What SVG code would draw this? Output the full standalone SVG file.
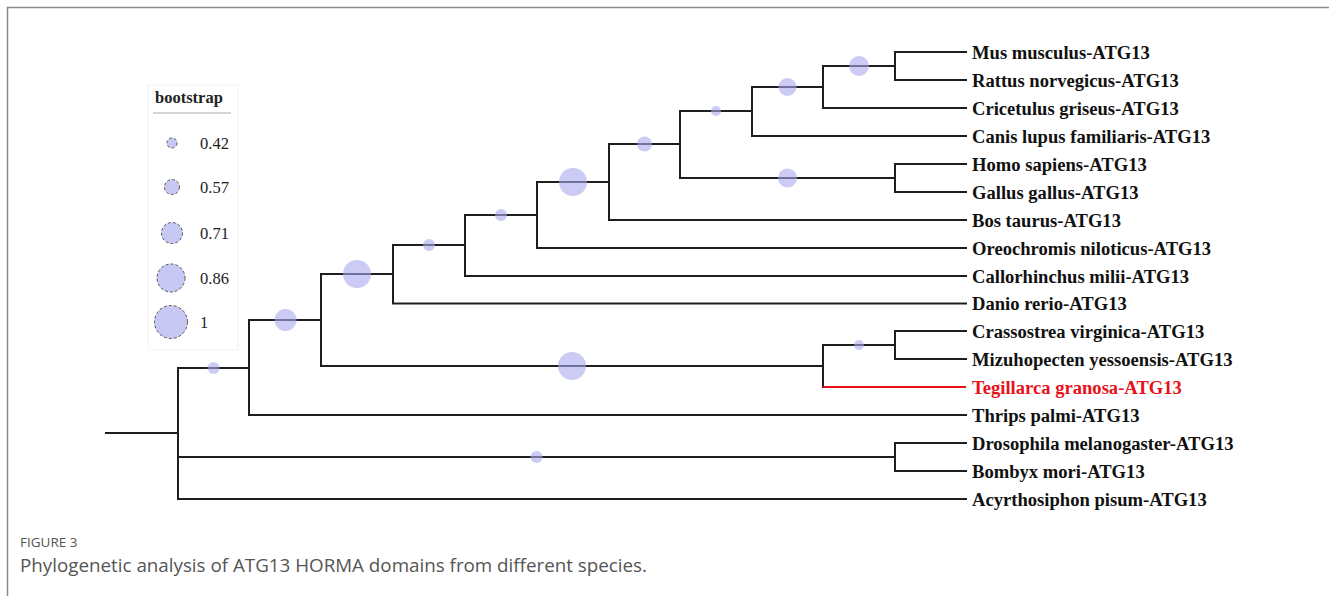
<svg xmlns="http://www.w3.org/2000/svg" width="1329" height="596" viewBox="0 0 1329 596">
<style>
.br{fill:none;stroke:#1e1e1e;stroke-width:2;stroke-linecap:square}
.red{fill:none;stroke:#e8111a;stroke-width:2}
.bs{fill:#a8a8ee;fill-opacity:0.6;stroke:none}
.lg{fill:#c8c8f4;stroke:#555;stroke-width:1;stroke-dasharray:3 2}
.lab{font-family:"Liberation Serif","Times New Roman",serif;font-weight:bold;font-size:18.6px;fill:#111}
.lt{font-family:"Liberation Serif","Times New Roman",serif;font-size:16.5px;fill:#222}
.cap{font-family:"Open Sans","Liberation Sans",sans-serif;fill:#555}
</style>
<rect width="1329" height="596" fill="#fff"/>
<path d="M7.5 596 V7.5 H1329" fill="none" stroke="#8a8a8a" stroke-width="1.5"/>

<g id="legend">
<rect x="148" y="85" width="90" height="265" fill="#fff" stroke="#f2f2f2" stroke-width="1"/>
<text x="155" y="103" class="lt" style="font-weight:bold">bootstrap</text>
<line x1="153" y1="113" x2="231" y2="113" stroke="#aaa" stroke-width="1"/>
<circle cx="172" cy="143" r="5" class="lg"/><text x="200" y="148.5" class="lt">0.42</text>
<circle cx="172" cy="187" r="7.5" class="lg"/><text x="200" y="192.5" class="lt">0.57</text>
<circle cx="172" cy="233" r="10.5" class="lg"/><text x="200" y="238.5" class="lt">0.71</text>
<circle cx="171" cy="278" r="14" class="lg"/><text x="200" y="283.5" class="lt">0.86</text>
<circle cx="171" cy="322" r="16.5" class="lg"/><text x="200" y="327.5" class="lt">1</text>
</g>

<g id="connectors">
<path class="br" d="M106 433 H178 M178 368 V499 M178 368 H249 M178 457 H895 M178 499 H966"/>
<path class="br" d="M249 320 V415 M249 320 H321 M249 415 H966"/>
<path class="br" d="M321 274 V366 M321 274 H393 M321 366 H823"/>
<path class="br" d="M393 245 V303.5 M393 245 H465 M393 303.5 H966"/>
<path class="br" d="M465 215 V276 M465 215 H537 M465 276 H966"/>
<path class="br" d="M537 182 V248 M537 182 H609 M537 248 H966"/>
<path class="br" d="M609 144 V220 M609 144 H680 M609 220 H966"/>
<path class="br" d="M680 111 V178 M680 111 H752 M680 178 H895"/>
<path class="br" d="M752 87 V136 M752 87 H823 M752 136 H966"/>
<path class="br" d="M823 66 V108 M823 66 H895 M823 108 H966"/>
<path class="br" d="M895 52 V80 M895 52 H966 M895 80 H966"/>
<path class="br" d="M895 164 V192 M895 164 H966 M895 192 H966"/>
<path class="br" d="M823 345 V387 M823 345 H895"/>
<path class="red" d="M823 387 H966"/>
<path class="br" d="M895 331 V359 M895 331 H966 M895 359 H966"/>
<path class="br" d="M895 443 V471 M895 443 H966 M895 471 H966"/>
</g>

<g id="n1"><circle class="bs" cx="859" cy="66" r="10"/></g>
<g id="n2"><circle class="bs" cx="787.5" cy="87" r="9"/></g>
<g id="n3"><circle class="bs" cx="716" cy="111" r="5"/></g>
<g id="n4"><circle class="bs" cx="787.5" cy="178" r="9.5"/></g>
<g id="n5"><circle class="bs" cx="644.5" cy="144" r="7.5"/></g>
<g id="n6"><circle class="bs" cx="573" cy="182" r="14"/></g>
<g id="n7"><circle class="bs" cx="501" cy="215" r="6"/></g>
<g id="n8"><circle class="bs" cx="429" cy="245" r="6"/></g>
<g id="n9"><circle class="bs" cx="357" cy="274" r="14"/></g>
<g id="n10"><circle class="bs" cx="859" cy="345" r="5"/></g>
<g id="n11"><circle class="bs" cx="572" cy="366" r="14"/></g>
<g id="n12"><circle class="bs" cx="285.5" cy="320" r="11"/></g>
<g id="n13"><circle class="bs" cx="213.5" cy="368" r="6"/></g>
<g id="n14"><circle class="bs" cx="536.5" cy="457" r="6"/></g>

<g id="leaf-mus"><text class="lab" x="972" y="58.5">Mus musculus-ATG13</text></g>
<g id="leaf-rattus"><text class="lab" x="972" y="86.5">Rattus norvegicus-ATG13</text></g>
<g id="leaf-cricetulus"><text class="lab" x="972" y="114.5">Cricetulus griseus-ATG13</text></g>
<g id="leaf-canis"><text class="lab" x="972" y="142.5">Canis lupus familiaris-ATG13</text></g>
<g id="leaf-homo"><text class="lab" x="972" y="170.5">Homo sapiens-ATG13</text></g>
<g id="leaf-gallus"><text class="lab" x="972" y="198.5">Gallus gallus-ATG13</text></g>
<g id="leaf-bos"><text class="lab" x="972" y="226.5">Bos taurus-ATG13</text></g>
<g id="leaf-oreochromis"><text class="lab" x="972" y="254.5">Oreochromis niloticus-ATG13</text></g>
<g id="leaf-callorhinchus"><text class="lab" x="972" y="282.5">Callorhinchus milii-ATG13</text></g>
<g id="leaf-danio"><text class="lab" x="972" y="310">Danio rerio-ATG13</text></g>
<g id="leaf-crassostrea"><text class="lab" x="972" y="337.5">Crassostrea virginica-ATG13</text></g>
<g id="leaf-mizuhopecten"><text class="lab" x="972" y="365.5">Mizuhopecten yessoensis-ATG13</text></g>
<g id="leaf-tegillarca"><text class="lab" x="972" y="393.5" style="fill:#e8111a">Tegillarca granosa-ATG13</text></g>
<g id="leaf-thrips"><text class="lab" x="972" y="421.5">Thrips palmi-ATG13</text></g>
<g id="leaf-drosophila"><text class="lab" x="972" y="449.5">Drosophila melanogaster-ATG13</text></g>
<g id="leaf-bombyx"><text class="lab" x="972" y="477.5">Bombyx mori-ATG13</text></g>
<g id="leaf-acyrthosiphon"><text class="lab" x="972" y="505.5">Acyrthosiphon pisum-ATG13</text></g>

<g id="caption">
<text class="cap" x="20" y="547" font-size="13.5">FIGURE 3</text>
<text class="cap" x="20" y="572" font-size="18.8">Phylogenetic analysis of ATG13 HORMA domains from different species.</text>
</g>
</svg>
